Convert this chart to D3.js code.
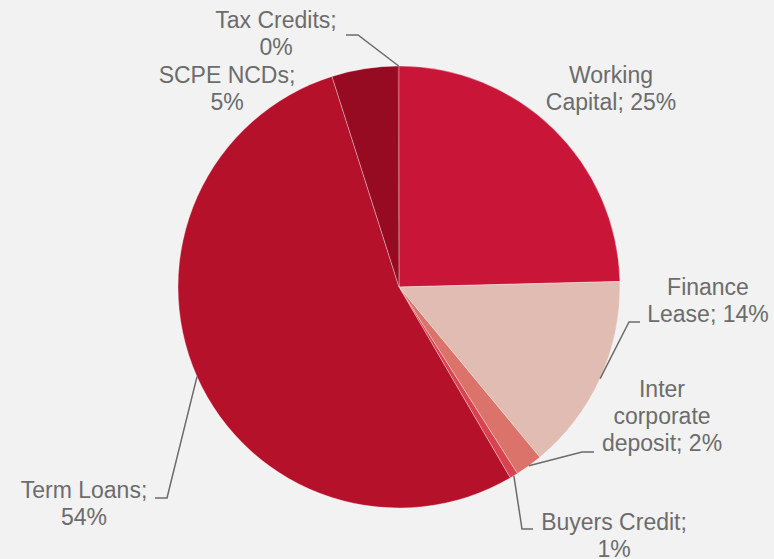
<!DOCTYPE html>
<html>
<head>
<meta charset="utf-8">
<script src="https://cdn.jsdelivr.net/npm/d3@7"></script>
<style>
  html, body { margin: 0; padding: 0; background: #f2f2f2; }
  #chart { width: 774px; height: 559px; }
</style>
</head>
<body>
<div id="chart"></div>
<script>
// slices, clockwise from 12 o'clock
var categories = ['Working Capital', 'Finance Lease', 'Inter corporate deposit', 'Buyers Credit', 'Term Loans', 'SCPE NCDs', 'Tax Credits'];
var shares = [24.6, 14.4, 2.0, 0.6, 53.5, 4.85, 0.05];
var pctLabels = ['25%', '14%', '2%', '1%', '54%', '5%', '0%'];
var colors = ['#c91538', '#e1bcb3', '#dc736a', '#d9434f', '#b5112b', '#960b22', '#c91538'];

// label text lines + where they sit (layout only)
var labelLines = [
    ['Working', 'Capital; 25%'],
    ['Finance', 'Lease; 14%'],
    ['Inter', 'corporate', 'deposit; 2%'],
    ['Buyers Credit;', '1%'],
    ['Term Loans;', '54%'],
    ['SCPE NCDs;', '5%'],
    ['Tax Credits;', '0%']
];
var labelPos = [
    {x: 611, y: 83},
    {x: 708, y: 295},
    {x: 662, y: 397},
    {x: 614, y: 530},
    {x: 84, y: 498},
    {x: 227, y: 83},
    {x: 276, y: 28}
];
// elbow / end of leader lines (null = no line)
var leaders = [
    null,
    [[629, 322], [640, 322]],
    [[582, 452], [594, 452]],
    [[522, 529], [533, 529]],
    [[167, 498], [155, 498]],
    null,
    [[358, 35], [346, 35]]
];

var W = 774, H = 559;
var cx = 399, cy = 287, R = 221;

var svg = d3.select('#chart').append('svg')
    .attr('width', W)
    .attr('height', H);

svg.append('rect').attr('width', W).attr('height', H).attr('fill', '#f2f2f2');

var pie = d3.pie().sort(null).value(function(d) { return d; });
var arcs = pie(shares);

var arc = d3.arc().innerRadius(0).outerRadius(R);
var edge = d3.arc().innerRadius(R).outerRadius(R);

var g = svg.append('g').attr('transform', 'translate(' + cx + ',' + cy + ')');

g.selectAll('path.slice')
    .data(arcs)
    .enter()
    .append('path')
    .attr('class', 'slice')
    .attr('d', arc)
    .attr('fill', function(d, i) { return colors[i]; })
    .attr('stroke', function(d, i) { return i === 6 ? 'none' : '#ffffff'; })
    .attr('stroke-opacity', 0.45)
    .attr('stroke-width', 0.75);

// leader lines
var line = d3.line();
svg.selectAll('path.leader')
    .data(arcs.filter(function(d, i) { return leaders[i]; }))
    .enter()
    .append('path')
    .attr('class', 'leader')
    .attr('d', function(d) {
        var c = edge.centroid(d);
        var l = leaders[d.index];
        return line([[cx + c[0], cy + c[1]], l[0], l[1]]);
    })
    .attr('fill', 'none')
    .attr('stroke', '#6b6b6b')
    .attr('stroke-width', 1.5);

// labels
var lab = svg.selectAll('text.lab')
    .data(categories)
    .enter()
    .append('text')
    .attr('class', 'lab')
    .attr('text-anchor', 'middle')
    .attr('font-family', 'Liberation Sans, Arial, sans-serif')
    .attr('font-size', 23)
    .attr('fill', '#6c6c6c')
    .attr('x', function(d, i) { return labelPos[i].x; })
    .attr('y', function(d, i) { return labelPos[i].y; });

lab.each(function(d, i) {
    var t = d3.select(this);
    labelLines[i].forEach(function(s, j) {
        t.append('tspan')
            .attr('x', labelPos[i].x)
            .attr('y', labelPos[i].y + j * 27)
            .text(s);
    });
});
</script>
</body>
</html>
